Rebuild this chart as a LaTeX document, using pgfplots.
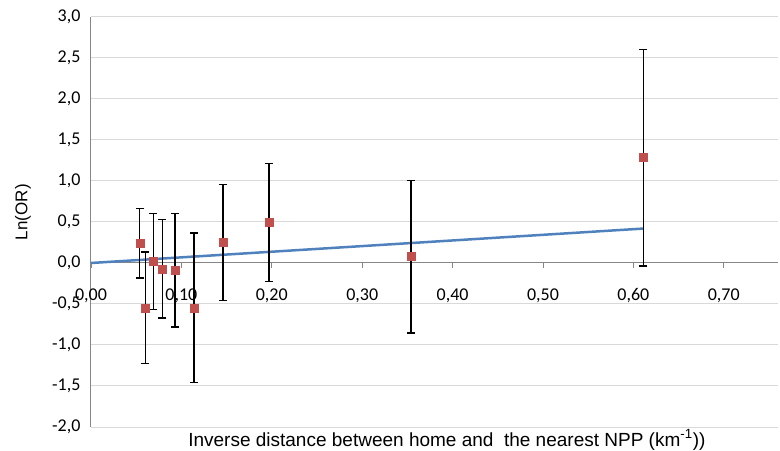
\documentclass[border=0pt]{standalone}
\usepackage{fontspec}
\setmainfont{Liberation Sans}
\newfontfamily\calfont{Carlito}
\usepackage{pgfplots}
\pgfplotsset{compat=1.18}
\definecolor{gridc}{HTML}{D9D9D9}
\definecolor{axc}{HTML}{868686}
\definecolor{pts}{HTML}{C0504D}
\definecolor{lin}{HTML}{4F81BD}
\begin{document}
\begin{tikzpicture}
\useasboundingbox (-91bp,-24bp) rectangle (689bp,427bp);
\begin{axis}[
  scale only axis,
  width=687bp, height=410bp,
  xmin=0, xmax=0.76, ymin=-2, ymax=3,
  axis x line=middle, axis y line=left,
  axis line style={axc, line width=1bp, -},
  xtick={0,0.1,...,0.71},
  ytick={-2,-1.5,...,3},
  ymajorgrids, grid style={gridc, line width=1bp},
  hide obscured x ticks=false,
  x tick style={axc, line width=0.8bp},
  y tick style={draw=none},
  tick align=outside, major tick length=5bp,
  xticklabel style={font=\calfont\fontsize{18bp}{20bp}\selectfont, anchor=north, yshift=-17bp,
    /pgf/number format/.cd, use comma, fixed, fixed zerofill, precision=2, assume math mode=true},
  yticklabel style={font=\calfont\fontsize{18bp}{20bp}\selectfont, anchor=east, xshift=-2bp,
    /pgf/number format/.cd, use comma, fixed, fixed zerofill, precision=1, assume math mode=true},
  xlabel={Inverse distance between home and\ \ the nearest NPP (km\textsuperscript{-1}))},
  xlabel style={font=\fontsize{19bp}{21bp}\selectfont, at={(axis description cs:0.518,0)}, anchor=center, yshift=-13bp},
  ylabel={Ln(OR)},
  ylabel style={font=\fontsize{17bp}{19bp}\selectfont, at={(axis description cs:-0.099,0.524)}, anchor=center},
  clip=false,
]
\addplot[lin, line width=2.5bp] coordinates {(0,0) (0.611,0.42)};
\addplot[only marks, mark=square*, mark size=4bp, mark options={fill=pts, draw=pts},
  error bars/.cd, y dir=both, y explicit,
  error bar style={black, line width=1.2bp},
  error mark options={black, line width=1.2bp, mark size=4bp, rotate=90}]
  table[x=x, y=y, y error plus=ep, y error minus=em] {
x y ep em
0.054 0.237 0.426 0.420
0.060 -0.556 0.690 0.671
0.069 0.020 0.580 0.585
0.079 -0.073 0.606 0.597
0.093 -0.093 0.693 0.687
0.114 -0.549 0.915 0.906
0.146 0.249 0.707 0.704
0.197 0.493 0.723 0.716
0.354 0.078 0.931 0.932
0.611 1.285 1.321 1.322
};
\end{axis}
\end{tikzpicture}
\end{document}
